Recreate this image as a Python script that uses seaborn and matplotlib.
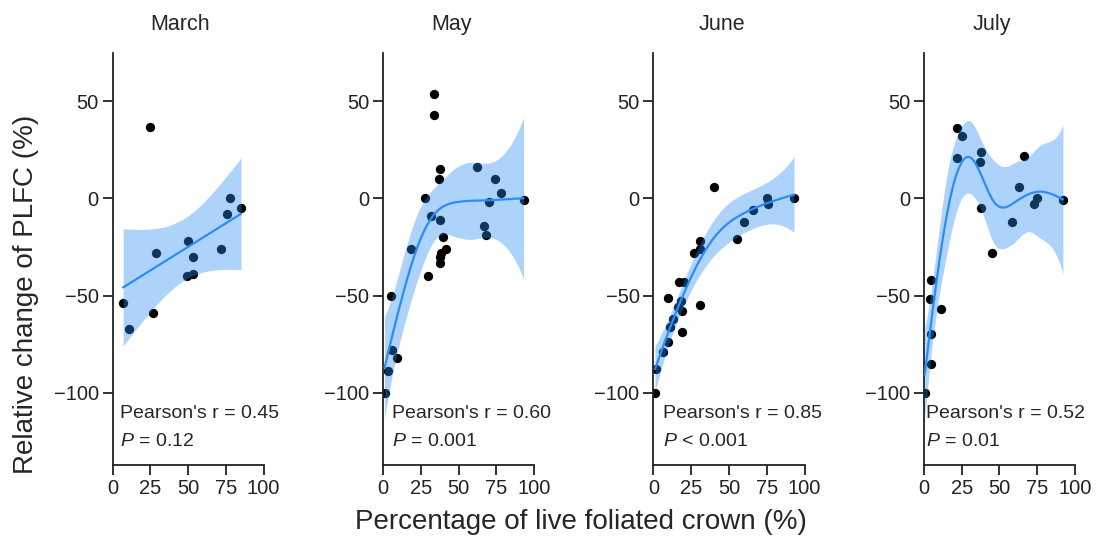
import numpy as np
import pandas as pd
import matplotlib
matplotlib.use('Agg')
import matplotlib.pyplot as plt
import seaborn as sns

# values (percentage of live foliated crown vs relative change of PLFC)
months = ['March', 'May', 'June', 'July']

march_x = [25, 29, 7, 11, 27, 50, 53, 49, 53, 72, 76, 78, 85]
march_y = [37, -28, -54, -67, -59, -22, -30, -40, -39, -26, -8, 0, -5]

may_x = [33.5, 33.5, 38, 37, 62, 74, 78, 28, 32, 38, 70, 93, 67, 68, 40, 42, 38.5, 38, 38, 18.5, 30, 5.5, 6, 9, 3, 1]
may_y = [54, 43, 15, 10, 16, 10, 3, 0, -9, -11, -2, -1, -14, -19, -20, -26, -28, -30, -33, -26, -40, -50, -78, -82, -89, -100]

june_x = [40, 93, 75, 76, 66, 60, 55, 31, 31, 27, 17, 20, 9.5, 30.5, 18, 16, 19, 13, 11, 19, 9.5, 6.5, 2, 1]
june_y = [6, 0, 0, -3, -6, -12, -21, -22, -26, -28, -43, -43, -51, -55, -53, -56, -58, -62, -66, -69, -74, -79, -88, -100]

july_x = [22, 25, 22, 38, 37, 66, 63, 75, 73, 92, 38, 58, 45, 4.5, 4, 11.5, 4.5, 4.5, 0.5]
july_y = [36, 32, 21, 24, 19, 22, 6, 0, -3, -1, -5, -12, -28, -42, -52, -57, -70, -85, -100]

r_text = ["Pearson's r = 0.45", "Pearson's r = 0.60", "Pearson's r = 0.85", "Pearson's r = 0.52"]
p_text = ["$P$ = 0.12", "$P$ = 0.001", "$P$ < 0.001", "$P$ = 0.01"]

xs = [march_x, may_x, june_x, july_x]
ys = [march_y, may_y, june_y, july_y]
df = pd.concat([pd.DataFrame({'month': m, 'crown': x, 'plfc': y})
                for m, x, y in zip(months, xs, ys)], ignore_index=True)

# March: straight line; other months: penalised spline smoother (gam-like).
# smoothing: None -> chosen by GCV, number -> fixed penalty
use_lm = [True, False, False, False]
smooth = [None, None, None, 0.1]
segments = [8, 8, 8, 6]


def t975(dof):
    z = 1.959964
    return z + (z**3 + z) / (4 * dof) + (5 * z**5 + 16 * z**3 + 3 * z) / (96 * dof**2)


def lm_band(x, y, grid):
    x = np.asarray(x, float)
    y = np.asarray(y, float)
    n = len(x)
    b, a = np.polyfit(x, y, 1)
    res = y - (a + b * x)
    sigma = np.sqrt(res @ res / (n - 2))
    sxx = ((x - x.mean())**2).sum()
    fit = a + b * grid
    se = sigma * np.sqrt(1 / n + (grid - x.mean())**2 / sxx)
    t = t975(n - 2)
    return fit, fit - t * se, fit + t * se


def bbase(x, xl, xr, nseg, deg=3):
    dx = (xr - xl) / nseg
    t = xl + dx * np.arange(-deg, nseg + deg + 1)
    x = np.asarray(x, float)[:, None]
    B = ((x >= t[:-1]) & (x < t[1:])).astype(float)
    for d in range(1, deg + 1):
        left = (x - t[:-d - 1]) / (t[d:-1] - t[:-d - 1]) * B[:, :-1]
        right = (t[d + 1:] - x) / (t[d + 1:] - t[1:-d]) * B[:, 1:]
        B = left + right
    return B


def spline_band(x, y, grid, lam=None, nseg=8):
    x = np.asarray(x, float)
    y = np.asarray(y, float)
    n = len(x)
    xl, xr = x.min(), x.max() + 1e-6
    B = bbase(x, xl, xr, nseg)
    nb = B.shape[1]
    D = np.diff(np.eye(nb), 2, axis=0)
    P = D.T @ D
    lams = np.logspace(-3, 5, 161) if lam is None else [lam]
    best = None
    for lm in lams:
        M = np.linalg.inv(B.T @ B + lm * P)
        A = B @ M @ B.T
        edf = np.trace(A)
        rss = ((y - A @ y)**2).sum()
        gcv = n * rss / (n - edf)**2
        if best is None or gcv < best[0]:
            best = (gcv, M, edf, rss)
    _, M, edf, rss = best
    beta = M @ B.T @ y
    sigma2 = rss / (n - edf)
    Bg = bbase(grid, xl, xr, nseg)
    fit = Bg @ beta
    se = np.sqrt(np.einsum('ij,jk,ik->i', Bg, M * sigma2, Bg))
    t = t975(n - edf)
    return fit, fit - t * se, fit + t * se


sns.set_theme(style='ticks')
plt.rcParams['font.family'] = ['Liberation Sans', 'DejaVu Sans']
plt.rcParams['mathtext.fontset'] = 'custom'
plt.rcParams['mathtext.rm'] = 'Liberation Sans'
plt.rcParams['mathtext.it'] = 'Liberation Sans:italic'

fig, axes = plt.subplots(1, 4, figsize=(11.1, 5.4), dpi=100)
fig.subplots_adjust(left=0.1014, right=0.9685, bottom=0.1396, top=0.9024, wspace=0.79)

line_col = '#2b8cf7'
text_x = [0.05, 0.06, 0.065, 0.015]
for i, (ax, m) in enumerate(zip(axes, months)):
    sub = df[df.month == m]
    grid = np.linspace(sub.crown.min(), sub.crown.max(), 150)
    if use_lm[i]:
        fit, lo, hi = lm_band(sub.crown, sub.plfc, grid)
    else:
        fit, lo, hi = spline_band(sub.crown, sub.plfc, grid, lam=smooth[i],
                                  nseg=segments[i])
    sns.scatterplot(data=sub, x='crown', y='plfc', ax=ax, color='black', s=45,
                    linewidth=0, zorder=2)
    ax.fill_between(grid, lo, hi, color=line_col, alpha=0.38, lw=0, zorder=3)
    sns.lineplot(x=grid, y=fit, ax=ax, color=line_col, lw=1.6, zorder=4)
    ax.set_xlim(0, 100)
    ax.set_ylim(-137, 75)
    ax.set_xticks([0, 25, 50, 75, 100])
    ax.set_yticks([-100, -50, 0, 50])
    ax.set_xlabel('')
    ax.set_ylabel('')
    ax.tick_params(labelsize=14.5, length=7, width=1.3, colors='#222222', pad=3)
    for s in ['left', 'bottom']:
        ax.spines[s].set_linewidth(1.3)
        ax.spines[s].set_color('#222222')
    sns.despine(ax=ax)
    ax.set_title(m, fontsize=15.5, pad=16, x=0.45)
    ax.text(text_x[i], 0.125, r_text[i], transform=ax.transAxes, fontsize=14,
            ha='left', va='center', zorder=5)
    ax.text(text_x[i], 0.055, p_text[i], transform=ax.transAxes, fontsize=14,
            ha='left', va='center', zorder=5)

fig.text(0.023, 0.455, 'Relative change of PLFC (%)', rotation=90, fontsize=20,
         ha='center', va='center')
fig.text(0.523, 0.033, 'Percentage of live foliated crown (%)', fontsize=20,
         ha='center', va='center')

fig.savefig('out.png', dpi=100)
